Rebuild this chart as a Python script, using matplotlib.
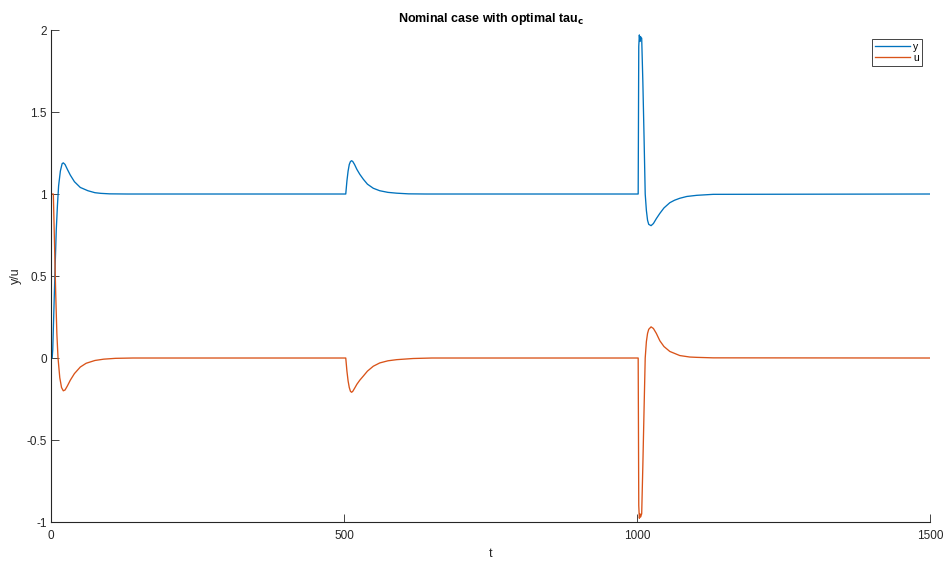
import matplotlib
matplotlib.use("Agg")
import matplotlib.pyplot as plt

plt.rcParams['font.family'] = ['Liberation Sans', 'DejaVu Sans']

# dane
t_y = [0, 2, 3, 5, 7, 9, 11, 13, 16, 19, 21, 24, 28, 33, 40, 50, 63, 75, 85, 100, 130,
       500, 503, 505, 507, 509, 511, 513, 515, 518, 522, 527, 533, 540, 550, 561, 575, 590, 610, 640,
       1002, 1003, 1004, 1005, 1006, 1007, 1008, 1010, 1012, 1014, 1016, 1018, 1020, 1024, 1028,
       1033, 1039, 1046, 1056, 1064, 1073, 1085, 1102, 1130, 1500]
y = [0.0, 0.0, 0.05, 0.3, 0.55, 0.78, 0.93, 1.05, 1.14, 1.185, 1.19, 1.18, 1.15, 1.115, 1.075, 1.04, 1.02, 1.008, 1.004, 1.001, 1.0,
     1.0, 1.0, 1.08, 1.14, 1.18, 1.198, 1.203, 1.198, 1.18, 1.15, 1.12, 1.09, 1.06, 1.035, 1.02, 1.01, 1.005, 1.001, 1.0,
     1.0, 1.9, 1.97, 1.93, 1.96, 1.95, 1.95, 1.68, 1.35, 1.0, 0.9, 0.84, 0.815, 0.807, 0.82,
     0.85, 0.882, 0.915, 0.947, 0.962, 0.974, 0.985, 0.992, 0.998, 1.0]

t_u = [0, 0.5, 4, 6, 8, 10, 12, 15, 18, 21, 24, 28, 33, 40, 50, 60, 75, 90, 110, 140,
       500, 503, 505, 507, 509, 511, 513, 515, 518, 522, 527, 533, 540, 550, 561, 575, 590, 618, 650,
       1002, 1003, 1004, 1005, 1006, 1007, 1008, 1010, 1012, 1014, 1016, 1018, 1020, 1024, 1028,
       1033, 1039, 1046, 1056, 1073, 1090, 1102, 1130, 1500]
u = [0.0, 1.0, 1.0, 0.7, 0.4, 0.15, 0.0, -0.12, -0.18, -0.2, -0.195, -0.17, -0.135, -0.095, -0.055, -0.032, -0.015, -0.007, -0.002, 0.0,
     0.0, 0.0, -0.08, -0.14, -0.18, -0.203, -0.209, -0.203, -0.185, -0.16, -0.135, -0.11, -0.08, -0.05, -0.03, -0.017, -0.01, -0.003, 0.0,
     0.0, -0.9, -0.977, -0.95, -0.97, -0.96, -0.95, -0.65, -0.32, 0.0, 0.1, 0.15, 0.175, 0.19, 0.18,
     0.15, 0.105, 0.07, 0.04, 0.015, 0.006, 0.004, 0.001, 0.0]

xticks = [0, 500, 1000, 1500]
yticks = [-1, -0.5, 0, 0.5, 1, 1.5, 2]
ytick_labels = ['-1', '-0.5', '0', '0.5', '1', '1.5', '2']

fig = plt.figure(figsize=(9.46, 5.63), dpi=100)
ax = fig.add_axes([0.0539, 0.0728, 0.9292, 0.8739])

ax.plot(t_y, y, color='#0072BD', lw=0.95, label='y')
ax.plot(t_u, u, color='#D95319', lw=0.95, label='u')

ax.set_xlim(0, 1500)
ax.set_ylim(-1, 2)
ax.set_xticks(xticks)
ax.set_xticklabels([str(v) for v in xticks])
ax.set_yticks(yticks)
ax.set_yticklabels(ytick_labels)

for s in ['top', 'right']:
    ax.spines[s].set_visible(False)
for s in ['left', 'bottom']:
    ax.spines[s].set_color('#262626')
    ax.spines[s].set_linewidth(0.8)
ax.tick_params(direction='in', length=6, width=0.6, colors='#262626', labelsize=8.5)
ax.tick_params(axis='x', pad=6)
ax.tick_params(axis='y', pad=3)

ax.set_xlabel('t', fontsize=9, color='#262626', labelpad=4)
ax.set_ylabel('y/u', fontsize=9, color='#262626', labelpad=3)
ax.set_title(r'Nominal case with optimal tau$_\mathbf{c}$', fontsize=9, fontweight='bold', pad=6)

leg = ax.legend(loc='upper right', bbox_to_anchor=(0.991, 0.982), borderaxespad=0,
                fontsize=7.5, handlelength=3.4, handletextpad=0.3, borderpad=0.3,
                labelspacing=0.1, fancybox=False, framealpha=1)
leg.get_frame().set_edgecolor('#262626')
leg.get_frame().set_linewidth(0.6)

plt.savefig('out.png', dpi=100)
